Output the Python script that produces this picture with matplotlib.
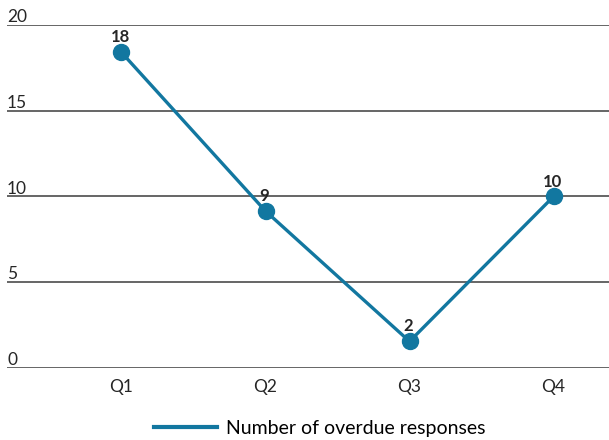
import matplotlib.pyplot as plt
import matplotlib.transforms as mtransforms

quarters = ['Q1', 'Q2', 'Q3', 'Q4']
overdue = [18.4, 9.15, 1.55, 10.0]
point_labels = ['18', '9', '2', '10']
y_ticks = [0, 5, 10, 15, 20]

plt.rcParams['font.family'] = ['Lato', 'DejaVu Sans']

blue = '#1277a0'
grid_col = '#595959'

fig = plt.figure(figsize=(6.09, 4.40), dpi=100)
ax = fig.add_axes([7 / 609, 1 - 368 / 440, 602 / 609, (368 - 25) / 440])

x = list(range(len(quarters)))
ax.plot(x, overdue, color=blue, linewidth=2.4, marker='o', markersize=11.5,
        label='Number of overdue responses', zorder=3)

for xi, yi, lab in zip(x, overdue, point_labels):
    ax.annotate(lab, (xi, yi), xytext=(-1, 5), textcoords='offset points',
                ha='center', va='bottom', fontsize=12, fontweight='bold', color='#262626')

ax.set_ylim(0, 20)
ax.set_xlim(-0.795, 3.385)
ax.set_yticks(y_ticks)
ax.set_yticklabels([])
ax.tick_params(axis='y', length=0)
ax.grid(axis='y', color=grid_col, linewidth=1.3)
ax.set_axisbelow(True)

trans = mtransforms.blended_transform_factory(ax.transAxes, ax.transData)
for t in y_ticks:
    ax.text(0, t, str(t), transform=trans, ha='left', va='bottom',
            fontsize=12.5, color='#262626')

ax.set_xticks(x)
ax.set_xticklabels(quarters, fontsize=12.5, color='#262626')
ax.tick_params(axis='x', length=0, pad=8)

for s in ax.spines.values():
    s.set_visible(False)

leg = fig.legend(loc='center', bbox_to_anchor=(320 / 609, 1 - 428 / 440), frameon=False,
                 fontsize=14, handlelength=3.2, handletextpad=0.5)
for h in leg.get_lines():
    h.set_marker('')
    h.set_linewidth(3)

fig.savefig('out.png', dpi=100)
